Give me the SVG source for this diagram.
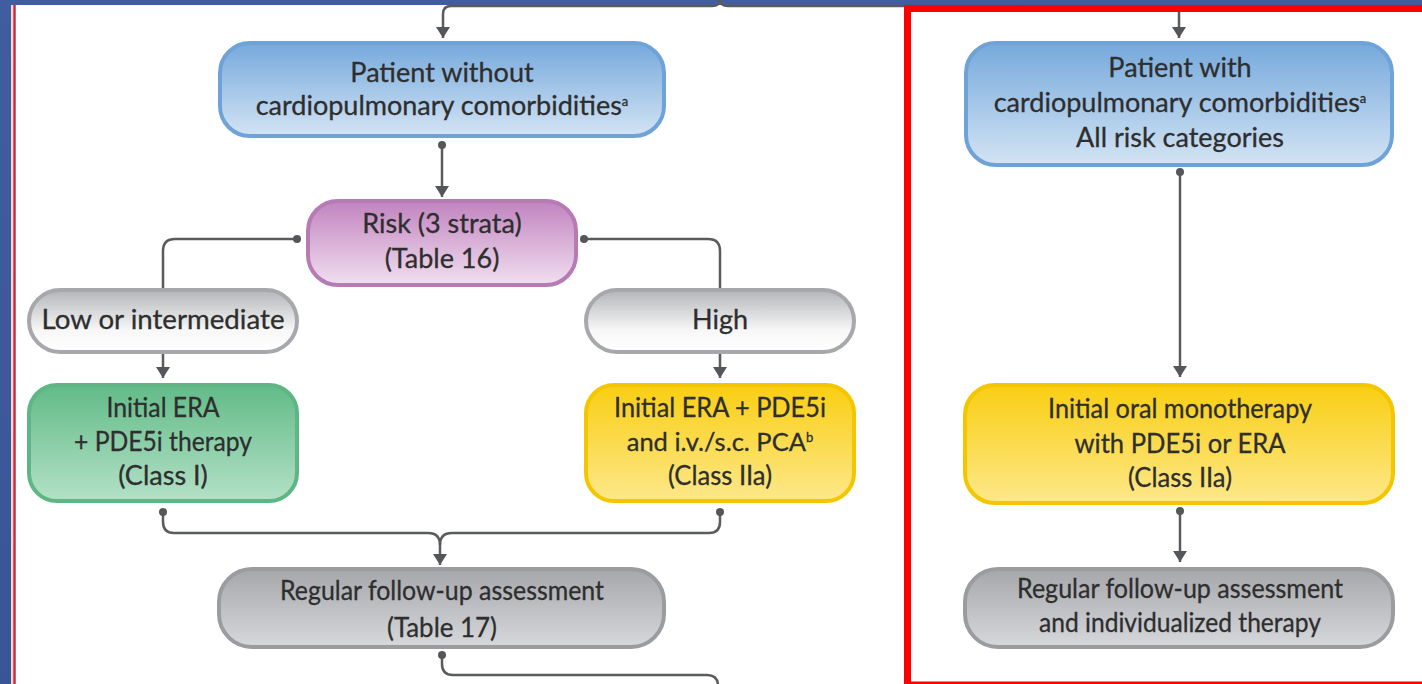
<svg xmlns="http://www.w3.org/2000/svg" width="1422" height="684" viewBox="0 0 1422 684">
<defs>
<style>
text{font-family:Lato,"Liberation Sans",sans-serif;font-size:27px;fill:#2e2e2e;stroke:#2e2e2e;stroke-width:0.3;text-anchor:middle}
.sup{font-size:13px}
.n25{font-size:25.5px}
.conn{fill:none;stroke:#5a5b5d;stroke-width:2.5}
.blue{fill:url(#gBlue);stroke:#6fa3d8;stroke-width:4}
.purple{fill:url(#gPurple);stroke:#b67ab5;stroke-width:4}
.grayl{fill:url(#gLight);stroke:#a6a8ab;stroke-width:4}
.green{fill:url(#gGreen);stroke:#5db684;stroke-width:4}
.yellow{fill:url(#gYellow);stroke:#f4c600;stroke-width:4}
.grayd{fill:url(#gDark);stroke:#9a9c9f;stroke-width:4}
</style>
<linearGradient id="gBlue" x1="0" y1="0" x2="0" y2="1"><stop offset="0" stop-color="#76a9dc"/><stop offset="1" stop-color="#d3e4f4"/></linearGradient>
<linearGradient id="gPurple" x1="0" y1="0" x2="0" y2="1"><stop offset="0" stop-color="#c184bf"/><stop offset="1" stop-color="#f1dff0"/></linearGradient>
<linearGradient id="gLight" x1="0" y1="0" x2="0" y2="1"><stop offset="0" stop-color="#b3b5b8"/><stop offset="0.65" stop-color="#f7f7f7"/><stop offset="1" stop-color="#ffffff"/></linearGradient>
<linearGradient id="gGreen" x1="0" y1="0" x2="0" y2="1"><stop offset="0" stop-color="#62bb88"/><stop offset="1" stop-color="#b4e1c7"/></linearGradient>
<linearGradient id="gYellow" x1="0" y1="0" x2="0" y2="1"><stop offset="0" stop-color="#f9ce12"/><stop offset="1" stop-color="#fde88a"/></linearGradient>
<linearGradient id="gDark" x1="0" y1="0" x2="0" y2="1"><stop offset="0" stop-color="#a5a7aa"/><stop offset="1" stop-color="#d6d8db"/></linearGradient>
<linearGradient id="gBg" x1="0" y1="0" x2="0" y2="1"><stop offset="0" stop-color="#3f5d9f"/><stop offset="1" stop-color="#3a5596"/></linearGradient>
<marker id="arrow" markerUnits="userSpaceOnUse" viewBox="0 -7 11 14" markerWidth="11" markerHeight="14" refX="11" refY="0" orient="auto"><path d="M0,-7 L11,0 L0,7 z" fill="#55565a"/></marker>
<marker id="dot" markerUnits="userSpaceOnUse" viewBox="-4 -4 8 8" markerWidth="8" markerHeight="8" refX="0" refY="0"><circle r="4" fill="#55565a"/></marker>
</defs>

<g id="background">
<rect x="0" y="0" width="1422" height="684" fill="url(#gBg)"/>
<rect x="11" y="5" width="1411" height="679" fill="#ffffff"/>
<line x1="12" y1="5" x2="12" y2="684" stroke="#f3c9cb" stroke-width="1.5"/>
<line x1="14.5" y1="5" x2="14.5" y2="684" stroke="#cf2a31" stroke-width="2.5"/>
<rect x="907.5" y="8.5" width="600" height="676.5" fill="none" stroke="#ff0000" stroke-width="7"/>
</g>

<g id="connectors">
<path class="conn" d="M720,0 Q720,6 712,6 H451 Q443,6 443,14 V38" marker-end="url(#arrow)"/>
<path class="conn" d="M720,0 Q720,6 728,6 H904"/>
<path class="conn" d="M1179,12 V38" marker-end="url(#arrow)"/>
<path class="conn" d="M442,145 V197" marker-start="url(#dot)" marker-end="url(#arrow)"/>
<path class="conn" d="M297,239 H175 Q163,239 163,251 V290" marker-start="url(#dot)"/>
<path class="conn" d="M584,239 H708 Q720,239 720,251 V290" marker-start="url(#dot)"/>
<path class="conn" d="M163,353 V378" marker-end="url(#arrow)"/>
<path class="conn" d="M720,353 V378" marker-end="url(#arrow)"/>
<path class="conn" d="M163,512 V522 Q163,533 174,533 H428 Q440,533 440,545 V565" marker-start="url(#dot)" marker-end="url(#arrow)"/>
<path class="conn" d="M720,512 V522 Q720,533 709,533 H452 Q440,533 440,545" marker-start="url(#dot)"/>
<path class="conn" d="M442,655 V664 Q442,675 453,675 H707 Q718,675 718,686" marker-start="url(#dot)"/>
<path class="conn" d="M1180,172 V377" marker-start="url(#dot)" marker-end="url(#arrow)"/>
<path class="conn" d="M1180,511 V562" marker-start="url(#dot)" marker-end="url(#arrow)"/>
</g>

<g id="patient-without">
<rect class="blue" x="220" y="43" width="444" height="93" rx="30"/>
<text x="442" y="82">Patient without</text>
<text x="442" y="115">cardiopulmonary comorbidities<tspan class="sup" dy="-9">a</tspan></text>
</g>

<g id="risk">
<rect class="purple" x="308" y="201" width="268" height="84" rx="30"/>
<text x="442" y="233">Risk (3 strata)</text>
<text x="442" y="268">(Table 16)</text>
</g>

<g id="low">
<rect class="grayl" x="29" y="290" width="268" height="62" rx="31"/>
<text x="163" y="329" textLength="243" lengthAdjust="spacingAndGlyphs">Low or intermediate</text>
</g>

<g id="high">
<rect class="grayl" x="586" y="290" width="268" height="62" rx="31"/>
<text x="720" y="329">High</text>
</g>

<g id="era-pde5i">
<rect class="green" x="29" y="385" width="268" height="116" rx="28"/>
<text x="163" y="417" textLength="113" lengthAdjust="spacingAndGlyphs">Initial ERA</text>
<text x="163" y="451" textLength="178" lengthAdjust="spacingAndGlyphs">+ PDE5i therapy</text>
<text x="163" y="485">(Class I)</text>
</g>

<g id="era-pde5i-pca">
<rect class="yellow" x="586" y="385" width="268" height="116" rx="28"/>
<text x="720" y="417" textLength="212" lengthAdjust="spacingAndGlyphs">Initial ERA + PDE5i</text>
<text class="n25" x="720" y="451">and i.v./s.c. PCA<tspan class="sup" dy="-9">b</tspan></text>
<text x="720" y="485" textLength="104" lengthAdjust="spacingAndGlyphs">(Class IIa)</text>
</g>

<g id="followup-left">
<rect class="grayd" x="219" y="569" width="445" height="78" rx="33"/>
<text x="442" y="600" textLength="324" lengthAdjust="spacingAndGlyphs">Regular follow-up assessment</text>
<text x="442" y="637" textLength="110" lengthAdjust="spacingAndGlyphs">(Table 17)</text>
</g>

<g id="patient-with">
<rect class="blue" x="966" y="43" width="426" height="122" rx="30"/>
<text x="1180" y="77">Patient with</text>
<text x="1180" y="112">cardiopulmonary comorbidities<tspan class="sup" dy="-9">a</tspan></text>
<text x="1180" y="147">All risk categories</text>
</g>

<g id="oral-mono">
<rect class="yellow" x="965" y="385" width="428" height="118" rx="30"/>
<text x="1180" y="418" textLength="264" lengthAdjust="spacingAndGlyphs">Initial oral monotherapy</text>
<text x="1180" y="453" textLength="211" lengthAdjust="spacingAndGlyphs">with PDE5i or ERA</text>
<text x="1180" y="487" textLength="104" lengthAdjust="spacingAndGlyphs">(Class IIa)</text>
</g>

<g id="followup-right">
<rect class="grayd" x="965" y="569" width="428" height="78" rx="33"/>
<text x="1180" y="598" textLength="326" lengthAdjust="spacingAndGlyphs">Regular follow-up assessment</text>
<text x="1180" y="632" textLength="282" lengthAdjust="spacingAndGlyphs">and individualized therapy</text>
</g>
</svg>
